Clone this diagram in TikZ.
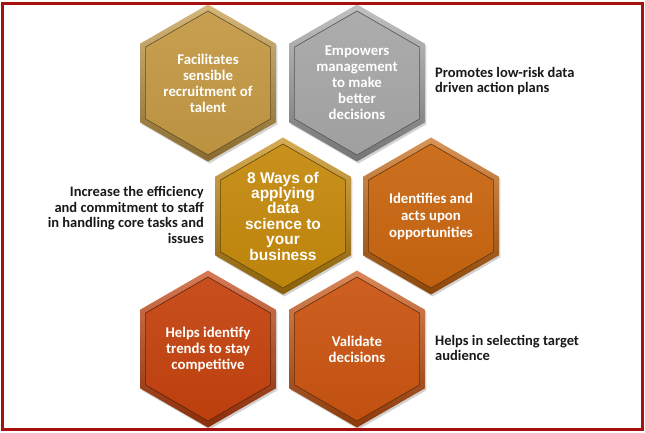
\documentclass[tikz,border=0pt]{standalone}
\usepackage{fontspec}
\setmainfont{Carlito}
\newfontfamily\arialfont{Liberation Sans}
\usetikzlibrary{shapes.geometric,shadows}
\definecolor{frameRed}{HTML}{A80F0F}
\definecolor{hexA}{HTML}{C39843}
\definecolor{hexB}{HTML}{A6A6A6}
\definecolor{hexC}{HTML}{C4890C}
\definecolor{hexD}{HTML}{C8650F}
\definecolor{hexE}{HTML}{C4420E}
\definecolor{hexF}{HTML}{C95411}
\tikzset{
  hexout/.style={regular polygon, regular polygon sides=6, shape border rotate=30,
    minimum size=157pt, inner sep=0pt, outer sep=0pt,
    drop shadow={shadow xshift=1.5pt, shadow yshift=-2pt, opacity=0.35}},
  hexin/.style={regular polygon, regular polygon sides=6, shape border rotate=30,
    minimum size=144pt, inner sep=0pt, outer sep=0pt, line width=0.6pt},
  hextext/.style={text=white, font=\fontsize{14.8}{16}\selectfont\bfseries, align=center, inner sep=0pt},
  centertext/.style={text=white, font=\arialfont\bfseries\fontsize{15.5}{15.4}\selectfont, align=center, inner sep=0pt},
  note/.style={text=black!90, font=\fontsize{14.5}{15.5}\selectfont\bfseries, inner sep=0pt},
  framestyle/.style={draw=frameRed, line width=3pt}
}
\newcommand\hexcell[5]{%
  \node[hexout, top color=#3!70!white, bottom color=#3!70!black] (#1o) at #2 {};
  \node[hexin, top color=#3!93!white, bottom color=#3!96!black, draw=#3!50!black] (#1i) at #2 {};
  \node[#5] (#1) at #2 {#4};
}
\begin{document}
\begin{tikzpicture}[x=1pt,y=-1pt]
\useasboundingbox (0,0) rectangle (645,433);
\fill[white] (0,0) rectangle (645,433);

\hexcell{A}{(208,83)}{hexA}{Facilitates\\sensible\\recruitment of\\talent}{hextext}
\hexcell{B}{(357,83)}{hexB}{Empowers\\management\\to make\\better\\decisions}{hextext}
\hexcell{C}{(283,216)}{hexC}{8 Ways of\\applying\\data\\science to\\your\\business}{centertext}
\hexcell{D}{(431,216)}{hexD}{Identifies and\\[1pt]acts upon\\[1pt]opportunities}{hextext}
\hexcell{E}{(208,349)}{hexE}{Helps identify\\trends to stay\\competitive}{hextext}
\hexcell{F}{(357,349)}{hexF}{Validate\\decisions}{hextext}

\node[note, anchor=west, align=left] (n1) at (435,81) {Promotes low-risk data\\driven action plans};
\node[note, anchor=east, align=right] (n2) at (204,215) {Increase the efficiency\\and commitment to staff\\in handling core tasks and\\issues};
\node[note, anchor=west, align=left] (n3) at (435,348) {Helps in selecting target\\audience};

\node[framestyle, inner sep=0pt, outer sep=0pt, minimum width=639.8pt, minimum height=425.5pt] (frame) at (322.1,216.55) {};
\end{tikzpicture}
\end{document}
